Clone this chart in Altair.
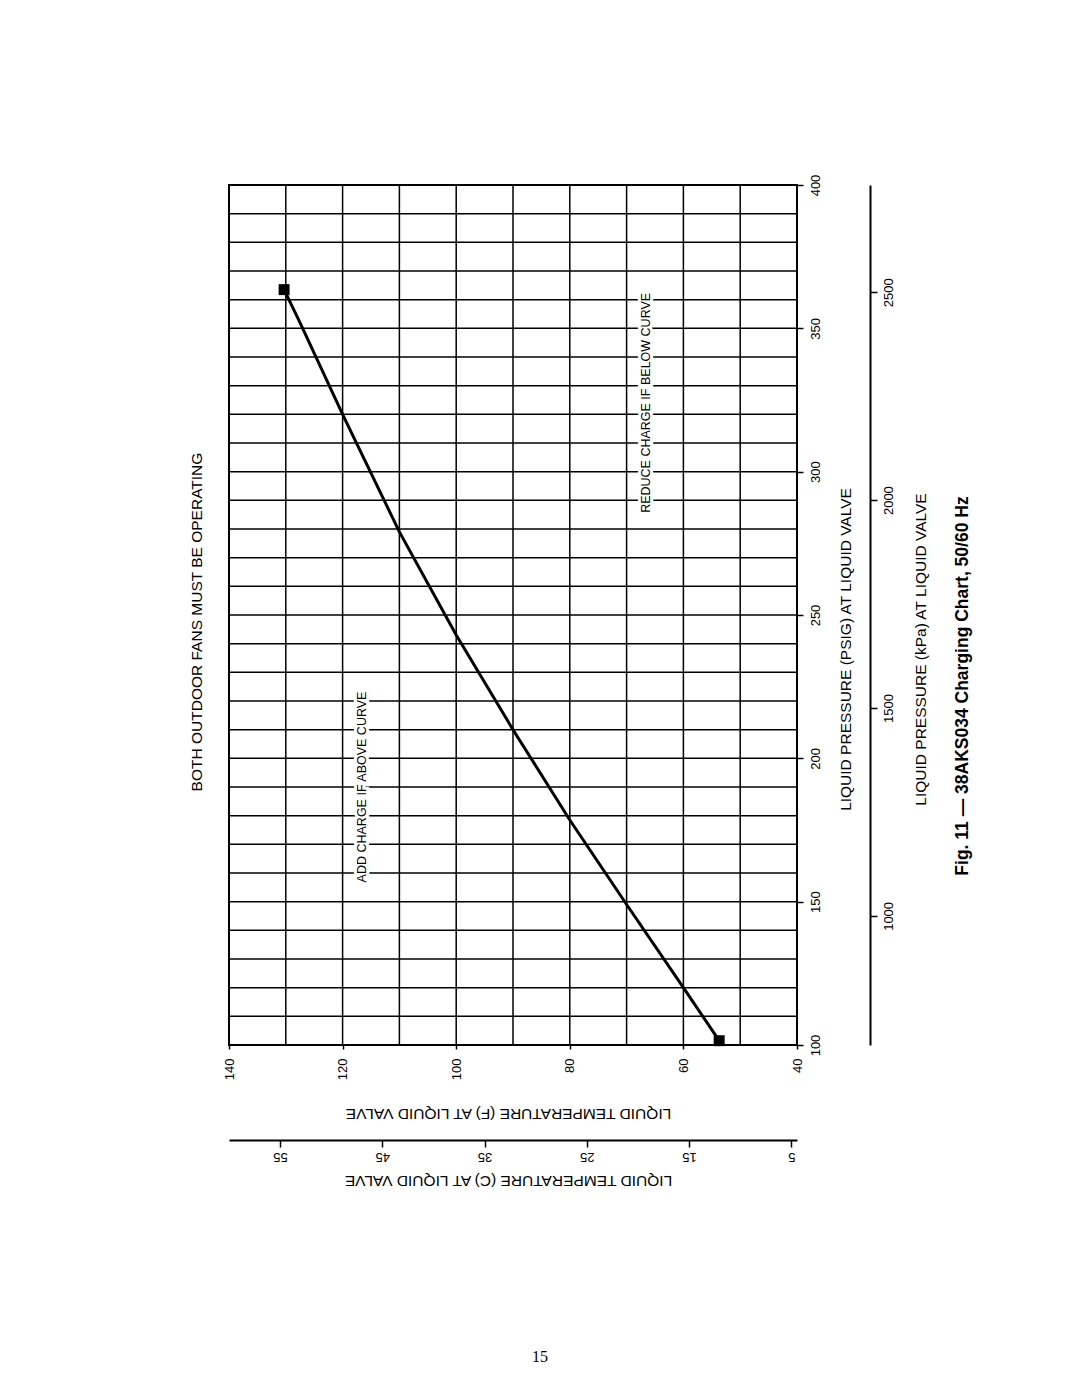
import altair as alt
import pandas as pd

# ---- data ----
temp_f = [53.7, 60, 70, 80, 90, 100, 110, 120, 127.5, 130.3]
psig = [101.5, 120, 149, 178.5, 210, 243, 279, 320, 352, 363.5]

grid_temp = [40, 50, 60, 70, 80, 90, 100, 110, 120, 130, 140]
grid_psig = [100, 110, 120, 130, 140, 150, 160, 170, 180, 190, 200, 210, 220,
             230, 240, 250, 260, 270, 280, 290, 300, 310, 320, 330, 340, 350,
             360, 370, 380, 390, 400]
temp_ticks = [40, 60, 80, 100, 120, 140]
psig_ticks = [100, 150, 200, 250, 300, 350, 400]
kpa_ticks = [1000, 1500, 2000, 2500]
c_ticks = [5, 15, 25, 35, 45, 55]

notes = ["ADD CHARGE IF ABOVE CURVE", "REDUCE CHARGE IF BELOW CURVE"]
note_temp = [116.5, 66.5]
note_psig = [190, 324]

header = "BOTH OUTDOOR FANS MUST BE OPERATING"
caption = "Fig. 11 \u2014 38AKS034 Charging Chart, 50/60 Hz"
page_no = "15"

# ---- layout ----
W, H = 568, 860
FONT = "Liberation Sans"
PSI_TO_KPA = 6.89476
TFS = 15.5   # axis title font size
LFS = 13     # tick label font size

xs = alt.Scale(domain=[40, 140], reverse=True, nice=False, zero=False)
ys = alt.Scale(domain=[100, 400], nice=False, zero=False)

curve_df = pd.DataFrame({"t": temp_f, "p": psig})
ends_df = pd.DataFrame({"t": [temp_f[0], temp_f[-1]], "p": [psig[0], psig[-1]]})
notes_df = pd.DataFrame({"label": notes, "t": note_temp, "p": note_psig})

X_NOAX = dict(scale=xs, axis=None)
Y_NOAX = dict(scale=ys, axis=None)

vgrid = alt.Chart(pd.DataFrame({"t": grid_temp})).mark_rule(
    color="black", strokeWidth=1.5
).encode(x=alt.X("t:Q", **X_NOAX), y=alt.value(0), y2=alt.value(H))

hgrid = alt.Chart(pd.DataFrame({"p": grid_psig})).mark_rule(
    color="black", strokeWidth=1.5
).encode(y=alt.Y("p:Q", **Y_NOAX), x=alt.value(0), x2=alt.value(W))

x_axis = alt.Axis(
    orient="bottom", values=temp_ticks, labelAngle=270, labelAlign="right",
    labelBaseline="middle", tickSize=4, labelPadding=9, grid=False, domain=False,
    tickColor="black", tickWidth=1.5, labelFont=FONT, labelFontSize=LFS,
    labelColor="black", labelFlush=False, labelOverlap=False, format="d",
    title="LIQUID TEMPERATURE (F) AT LIQUID VALVE", titleAngle=180, titleX=279,
    titleY=68, titleAlign="center", titleBaseline="middle", titleFont=FONT,
    titleFontSize=TFS, titleFontWeight="normal", titleColor="black",
)
y_axis = alt.Axis(
    orient="right", values=psig_ticks, labelAngle=270, labelAlign="center",
    labelBaseline="middle", tickSize=6, labelPadding=12, grid=False, domain=False,
    tickColor="black", tickWidth=1.5, labelFont=FONT, labelFontSize=LFS,
    labelColor="black", labelFlush=False, labelOverlap=False, format="d",
    title="LIQUID PRESSURE (PSIG) AT LIQUID VALVE", titleAngle=270, titleX=48,
    titleY=464, titleAlign="center", titleBaseline="middle", titleFont=FONT,
    titleFontSize=TFS, titleFontWeight="normal", titleColor="black",
)

curve = alt.Chart(curve_df).mark_line(color="black", strokeWidth=3).encode(
    x=alt.X("t:Q", scale=xs, axis=x_axis),
    y=alt.Y("p:Q", scale=ys, axis=y_axis),
)

ends = alt.Chart(ends_df).mark_square(color="black", size=120, opacity=1).encode(
    x=alt.X("t:Q", **X_NOAX), y=alt.Y("p:Q", **Y_NOAX)
)

halo = alt.Chart(notes_df).mark_text(
    angle=270, font=FONT, fontSize=12.5, color="white", stroke="white",
    strokeWidth=6, align="center", baseline="middle"
).encode(x=alt.X("t:Q", **X_NOAX), y=alt.Y("p:Q", **Y_NOAX), text="label:N")

note_text = alt.Chart(notes_df).mark_text(
    angle=270, font=FONT, fontSize=12.5, color="black", align="center",
    baseline="middle"
).encode(x=alt.X("t:Q", **X_NOAX), y=alt.Y("p:Q", **Y_NOAX), text="label:N")

head = alt.Chart(pd.DataFrame({"label": [header]})).mark_text(
    angle=270, font=FONT, fontSize=15.5, color="black", align="center",
    baseline="middle"
).encode(x=alt.value(-32), y=alt.value(437), text="label:N")

cap = alt.Chart(pd.DataFrame({"label": [caption]})).mark_text(
    angle=270, font=FONT, fontSize=17.5, fontWeight="bold", color="black",
    align="center", baseline="middle"
).encode(x=alt.value(734), y=alt.value(501), text="label:N")

page = alt.Chart(pd.DataFrame({"label": [page_no]})).mark_text(
    font="Liberation Serif", fontSize=16, color="black", align="center",
    baseline="middle"
).encode(x=alt.value(311), y=alt.value(1172), text="label:N")

c_lo = (40 - 32) * 5 / 9
c_hi = (140 - 32) * 5 / 9
c_layer = alt.Chart(pd.DataFrame({"c": c_ticks})).mark_point(opacity=0).encode(
    x=alt.X("c:Q",
            scale=alt.Scale(domain=[c_lo, c_hi], reverse=True, nice=False, zero=False),
            axis=alt.Axis(
                orient="bottom", offset=95, values=c_ticks, labelAngle=180,
                labelAlign="center", labelBaseline="middle", tickSize=7,
                labelPadding=9, grid=False, domainColor="black", domainWidth=2,
                tickColor="black", tickWidth=1.5, labelFont=FONT, labelFontSize=LFS,
                labelColor="black", labelFlush=False, labelOverlap=False, format="d",
                title="LIQUID TEMPERATURE (C) AT LIQUID VALVE", titleAngle=180,
                titleX=279, titleY=40, titleAlign="center", titleBaseline="middle",
                titleFont=FONT, titleFontSize=TFS, titleFontWeight="normal",
                titleColor="black"))
)

k_layer = alt.Chart(pd.DataFrame({"k": kpa_ticks})).mark_point(opacity=0).encode(
    y=alt.Y("k:Q",
            scale=alt.Scale(domain=[100 * PSI_TO_KPA, 400 * PSI_TO_KPA], nice=False,
                            zero=False),
            axis=alt.Axis(
                orient="right", offset=73, values=kpa_ticks, labelAngle=270,
                labelAlign="center", labelBaseline="middle", tickSize=7,
                labelPadding=11, grid=False, domainColor="black", domainWidth=2,
                tickColor="black", tickWidth=1.5, labelFont=FONT, labelFontSize=LFS,
                labelColor="black", labelFlush=False, labelOverlap=False, format="d",
                title="LIQUID PRESSURE (kPa) AT LIQUID VALVE", titleAngle=270,
                titleX=50, titleY=464, titleAlign="center", titleBaseline="middle",
                titleFont=FONT, titleFontSize=TFS, titleFontWeight="normal",
                titleColor="black"))
)

chart = alt.layer(
    vgrid, hgrid, halo, note_text, curve, ends, head, cap, page, c_layer, k_layer
).resolve_scale(
    x="independent", y="independent"
).properties(
    width=W, height=H,
    autosize=alt.AutoSizeParams(type="none"),
    padding={"left": 229, "top": 185, "right": 283, "bottom": 352},
    background="white",
).configure_view(stroke="black", strokeWidth=2)

chart.save("out.html", embed_options={"renderer": "svg", "actions": False})
